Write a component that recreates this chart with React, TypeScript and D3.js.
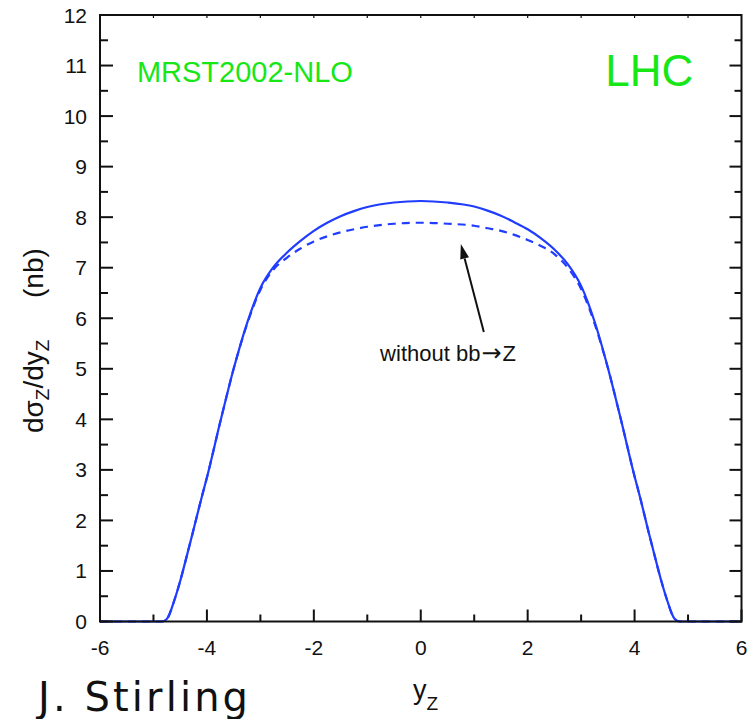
import React from "react";
import * as d3 from "d3";

// rapidity y_Z grid
const rapidity = [
  -6, -5, -4.85, -4.75, -4.6, -4.5, -4.4, -4.25, -4.1, -4.0, -3.75, -3.5, -3.25, -3.0,
  -2.75, -2.5, -2.25, -2.0, -1.75, -1.5, -1.25, -1.0, -0.5, 0, 0.5, 1.0, 1.25, 1.5,
  1.75, 2.0, 2.25, 2.5, 2.75, 3.0, 3.25, 3.5, 3.75, 4.0, 4.1, 4.25, 4.4, 4.5, 4.6,
  4.75, 4.85, 5, 6,
];
// dσ_Z/dy_Z (nb), full NLO (with bb→Z)
const withBB = [
  0, 0, 0, 0.05, 0.45, 0.8, 1.2, 1.82, 2.45, 2.85, 3.95, 5.0, 5.9, 6.6,
  7.02, 7.3, 7.53, 7.73, 7.89, 8.02, 8.12, 8.2, 8.29, 8.32, 8.29, 8.21, 8.13, 8.03,
  7.9, 7.76, 7.58, 7.36, 7.07, 6.64, 5.94, 5.02, 3.97, 2.87, 2.47, 1.82, 1.2, 0.8, 0.45,
  0.05, 0, 0, 0,
];
// without bb→Z
const withoutBB = [
  0, 0, 0, 0.05, 0.45, 0.8, 1.2, 1.82, 2.45, 2.85, 3.95, 5.0, 5.88, 6.56,
  6.97, 7.2, 7.38, 7.52, 7.62, 7.7, 7.76, 7.81, 7.87, 7.89, 7.87, 7.83, 7.78, 7.73,
  7.65, 7.55, 7.43, 7.27, 7.0, 6.58, 5.9, 5.02, 3.97, 2.87, 2.47, 1.82, 1.2, 0.8, 0.45,
  0.05, 0, 0, 0,
];

const xTickLabels = [-6, -4, -2, 0, 2, 4, 6];
const xMinorTicks = [-5, -3, -1, 1, 3, 5];
const yTickLabels = [0, 1, 2, 3, 4, 5, 6, 7, 8, 9, 10, 11, 12];
const yMinorTicks = [0.5, 1.5, 2.5, 3.5, 4.5, 5.5, 6.5, 7.5, 8.5, 9.5, 10.5, 11.5];
const topTicks = [-5, -4, -3, -2, -1, 0, 1, 2, 3, 4, 5];

const W = 749;
const H = 719;
const BLUE = "#1f3cff";
const GREEN = "#17e617";
const FONT = "'Liberation Sans', Arial, sans-serif";

export default function App() {
  const x = d3.scaleLinear().domain([-6, 6]).range([100, 741.5]);
  const y = d3.scaleLinear().domain([0, 12]).range([621.5, 15]);

  const ptsA = rapidity.map((r, i) => [r, withBB[i]] as [number, number]);
  const ptsB = rapidity.map((r, i) => [r, withoutBB[i]] as [number, number]);
  const line = d3
    .line<[number, number]>()
    .x((d) => x(d[0]))
    .y((d) => y(d[1]))
    .curve(d3.curveMonotoneX);

  const x0 = x(-6), x1 = x(6), y0 = y(0), y1 = y(12);

  // arrow annotation (data coords)
  const tail = [1.18, 5.73];
  const tip = [0.75, 7.47];
  const tx = x(tip[0]), ty = y(tip[1]);
  const sx = x(tail[0]), sy = y(tail[1]);
  const dx = tx - sx, dy = ty - sy;
  const len = Math.hypot(dx, dy);
  const ux = dx / len, uy = dy / len;
  const hl = 15, hw = 4.5;
  const bx = tx - ux * hl, by = ty - uy * hl;
  const head = `${tx},${ty} ${bx - uy * hw},${by + ux * hw} ${bx + uy * hw},${by - ux * hw}`;

  return (
    <svg
      width={W}
      height={H}
      style={{ position: "absolute", left: 0, top: 0, background: "#fff" }}
      fontFamily={FONT}
    >
      <rect x={0} y={0} width={W} height={H} fill="#fff" />

      {/* curves */}
      <path d={line(ptsB) || ""} fill="none" stroke={BLUE} strokeWidth={2.2} strokeDasharray="8,6" />
      <path d={line(ptsA) || ""} fill="none" stroke={BLUE} strokeWidth={2.2} />

      {/* frame */}
      <g stroke="#111" strokeWidth={2} fill="none">
        <line x1={x0} y1={y0} x2={x1} y2={y0} />
        <line x1={x0} y1={y1} x2={x1} y2={y1} />
        <line x1={x0} y1={y0 + 1} x2={x0} y2={y1 - 1} />
        <line x1={x1} y1={y0 + 1} x2={x1} y2={y1 - 1} />
        {yTickLabels.map((v) => (
          <g key={"ym" + v}>
            <line x1={x0} x2={x0 + 13} y1={y(v)} y2={y(v)} />
            <line x1={x1} x2={x1 - 12} y1={y(v)} y2={y(v)} />
          </g>
        ))}
        {yMinorTicks.map((v) => (
          <g key={"yn" + v}>
            <line x1={x0} x2={x0 + 8} y1={y(v)} y2={y(v)} />
            <line x1={x1} x2={x1 - 7} y1={y(v)} y2={y(v)} />
          </g>
        ))}
        {xTickLabels.map((v) => (
          <line key={"xm" + v} x1={x(v)} x2={x(v)} y1={y0} y2={y0 - 12} />
        ))}
        {xMinorTicks.map((v) => (
          <line key={"xn" + v} x1={x(v)} x2={x(v)} y1={y0} y2={y0 - 7} />
        ))}
        {topTicks.map((v) => (
          <line key={"xt" + v} x1={x(v)} x2={x(v)} y1={y1} y2={y1 + 3} strokeWidth={1.2} />
        ))}
      </g>

      {/* tick labels */}
      <g fontSize={21} fill="#111">
        {yTickLabels.map((v) => (
          <text key={"yl" + v} x={87} y={y(v) + 7.5} textAnchor="end">
            {v}
          </text>
        ))}
        {xTickLabels.map((v) => (
          <text key={"xl" + v} x={x(v)} y={655} textAnchor="middle">
            {v}
          </text>
        ))}
      </g>

      {/* axis titles */}
      <text transform="translate(43,433) rotate(-90)" fontSize={28} fill="#111">
        dσ
        <tspan fontSize={19} dy={6}>Z</tspan>
        <tspan dy={-6}>/dy</tspan>
        <tspan fontSize={19} dy={6}>Z</tspan>
      </text>
      <text transform="translate(43,298) rotate(-90)" fontSize={28} fill="#111">
        (nb)
      </text>
      <text x={413} y={699} fontSize={27} fill="#111">
        y<tspan fontSize={19} dy={11}>Z</tspan>
      </text>

      {/* labels */}
      <text x={x(-5.31)} y={y(10.67)} fontSize={29} fill={GREEN}>
        MRST2002-NLO
      </text>
      <text x={x(3.45)} y={y(10.6)} fontSize={44} fill={GREEN}>
        LHC
      </text>

      {/* annotation */}
      <line x1={sx} y1={sy} x2={bx} y2={by} stroke="#111" strokeWidth={2} />
      <polygon points={head} fill="#111" />
      <text x={x(-0.76)} y={y(5.15)} fontSize={22} fill="#111">
        without bb
        <tspan fontFamily="'DejaVu Sans', sans-serif" fontSize={24} dx={1}>→</tspan>
        <tspan dx={1}>Z</tspan>
      </text>

      <text
        x={38}
        y={711}
        fontSize={40}
        fill="#111"
        fontFamily="'DejaVu Sans', sans-serif"
        textLength={210}
        lengthAdjust="spacing"
      >
        J. Stirling
      </text>
    </svg>
  );
}
